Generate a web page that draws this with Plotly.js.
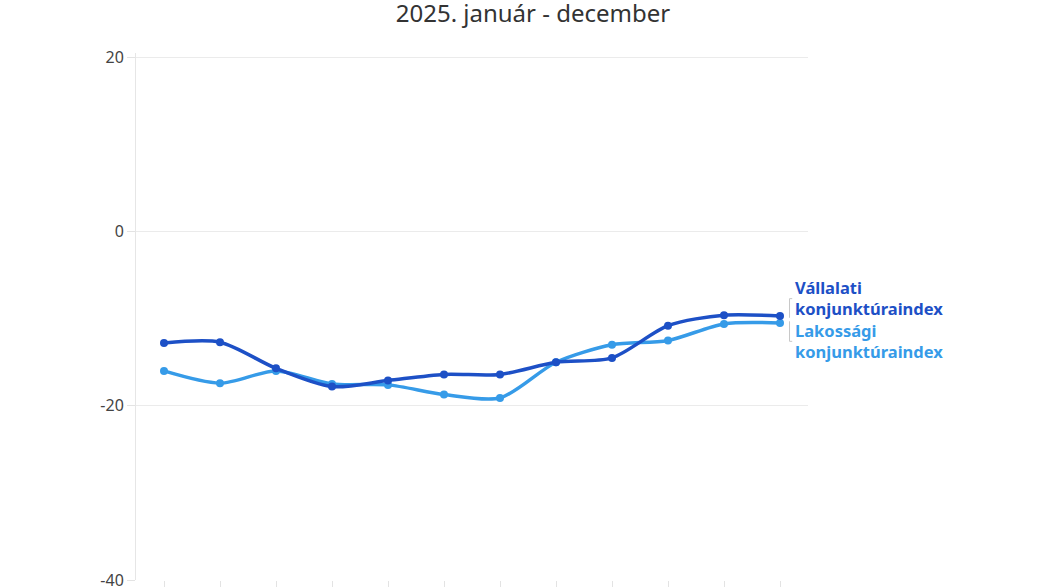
<!DOCTYPE html>
<html>
<head>
<meta charset="utf-8">
<script src="https://cdn.plot.ly/plotly-3.0.1.min.js"></script>
<style>
html,body{margin:0;padding:0;background:#fff;overflow:hidden;}
#chart{width:1043px;height:620px;}
</style>
</head>
<body>
<div id="chart"></div>
<script>
const months = ["jan.", "febr.", "márc.", "ápr.", "máj.", "jún.", "júl.", "aug.", "szept.", "okt.", "nov.", "dec."];
const vallalati = [-12.8, -12.7, -15.7, -17.8, -17.1, -16.4, -16.4, -15.0, -14.5, -10.8, -9.6, -9.7];
const lakossagi = [-16.0, -17.4, -16.0, -17.5, -17.6, -18.7, -19.1, -15.0, -13.0, -12.5, -10.6, -10.5];
const vallalatiLabel = "Vállalati<br>konjunktúraindex";
const lakossagiLabel = "Lakossági<br>konjunktúraindex";
const yTicks = [20, 0, -20, -40];
const titleText = "2025. január - december";

const darkBlue = "#1d50c6";
const lightBlue = "#369be8";

const traces = [
  {x: months, y: lakossagi, type: "scatter", mode: "lines+markers",
   line: {color: lightBlue, width: 3.5, shape: "spline", smoothing: 0.8},
   marker: {color: lightBlue, size: 8}, hoverinfo: "skip"},
  {x: months, y: vallalati, type: "scatter", mode: "lines+markers",
   line: {color: darkBlue, width: 3.5, shape: "spline", smoothing: 0.8},
   marker: {color: darkBlue, size: 8}, hoverinfo: "skip"}
];

const labelFamily = "Noto Sans, Roboto, sans-serif";
function lab(text, y, color) {
  return {text: "<b>" + text + "</b>", xref: "paper", yref: "y", x: 0.979, y: y,
          xanchor: "left", yanchor: "middle", align: "left", showarrow: false,
          borderpad: 0, font: {family: labelFamily, size: 16.5, color: color}};
}

const H = 620;
const layout = {
  width: 1043, height: H,
  margin: {l: 136, r: 235, t: 53, b: 40},
  paper_bgcolor: "#fff", plot_bgcolor: "#fff",
  showlegend: false,
  title: {text: titleText, x: 0.511, xref: "container", y: 1 - 14 / H, yref: "container", yanchor: "middle",
          font: {family: "Noto Sans, Open Sans, sans-serif", size: 24, color: "#333"}},
  xaxis: {type: "category", range: [-0.5, 11.5], showgrid: false, showline: false, zeroline: false,
          ticks: "outside", ticklen: 10, tickcolor: "#e3e3e3", tickwidth: 1,
          showticklabels: false, fixedrange: true},
  yaxis: {range: [-40, 20.5], tickvals: yTicks, ticktext: yTicks.map(String),
          showgrid: true, gridcolor: "#ebebeb", gridwidth: 1, zeroline: false,
          showline: true, linecolor: "#e6e6e6", linewidth: 1,
          ticks: "outside", ticklen: 8, tickcolor: "#e3e3e3",
          tickfont: {family: "Noto Sans, sans-serif", size: 16, color: "#444"}, fixedrange: true},
  annotations: [
    lab(vallalatiLabel, -7.6, darkBlue),
    lab(lakossagiLabel, -12.6, lightBlue)
  ],
  shapes: [
    {type: "path", xref: "paper", yref: "y", path: "M 0.9765 -7.7 L 0.9725 -7.7 L 0.9725 -9.9",
     line: {color: "#c8c8c8", width: 1}},
    {type: "path", xref: "paper", yref: "y", path: "M 0.9725 -10.3 L 0.9725 -12.6 L 0.9765 -12.6",
     line: {color: "#c8c8c8", width: 1}}
  ]
};

Plotly.newPlot("chart", traces, layout, {displayModeBar: false, staticPlot: true});
</script>
</body>
</html>
